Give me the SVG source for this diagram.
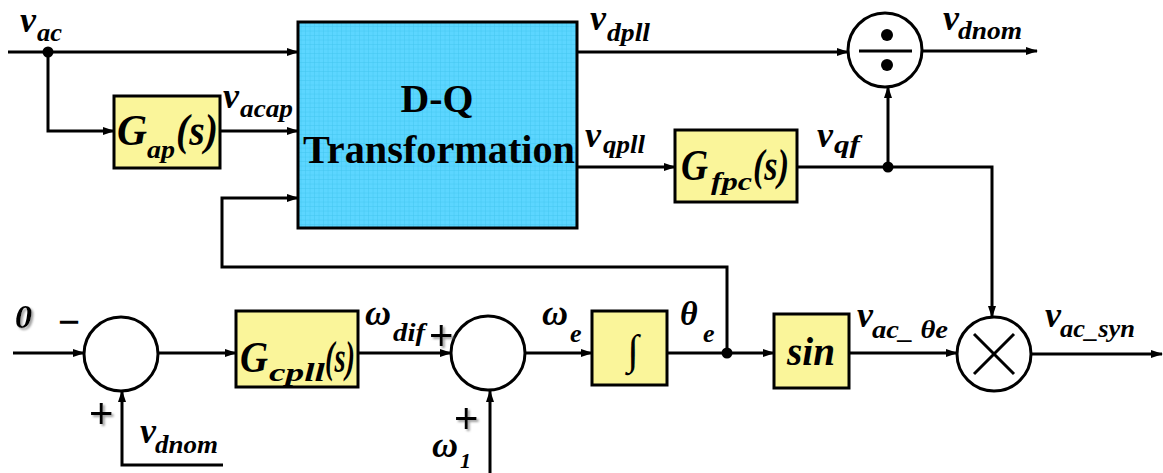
<svg xmlns="http://www.w3.org/2000/svg" width="1163" height="473" viewBox="0 0 1163 473">
<defs>
<pattern id="grid" width="4.5" height="4.5" patternUnits="userSpaceOnUse">
<rect width="4.5" height="4.5" fill="#5CD6FF"/>
<path d="M4.5 0V4.5M0 4.5H4.5" stroke="#3EC4EE" stroke-width="0.8" fill="none"/>
</pattern>
<marker id="arr" markerWidth="12" markerHeight="10" refX="11" refY="5" orient="auto" markerUnits="userSpaceOnUse"><path d="M0,1 L12,5 L0,9 Z" fill="#000"/></marker>
<filter id="sh" x="-30%" y="-30%" width="160%" height="160%"><feDropShadow dx="2" dy="2" stdDeviation="0.8" flood-color="#888" flood-opacity="0.8"/></filter>
</defs>
<style>
.blk{fill:#FAF59A;stroke:#000;stroke-width:3}
.cir{fill:#fff;stroke:#000;stroke-width:3}
.ln{fill:none;stroke:#000;stroke-width:3;marker-end:url(#arr)}
.pl{fill:none;stroke:#000;stroke-width:3}
.lab{font-family:'Liberation Serif', 'Times New Roman', serif;font-weight:bold;font-style:italic;fill:#000}
.v{font-size:36px}
.sub{font-size:26px}
.big{font-size:44px}
.sign{font-family:'Liberation Sans', Arial, sans-serif;font-size:42px;fill:#000}
.dq{font-family:'Liberation Serif', 'Times New Roman', serif;font-weight:bold;font-size:39px;fill:#000}
</style>
<rect width="1163" height="473" fill="#fff"/>

<g id="connectors">
<path class="ln" d="M8,52 H298"/>
<path class="ln" d="M48,52 V131 H114"/>
<path class="ln" d="M220,131 H298"/>
<path class="ln" d="M727,353 V267 H222 V198 H298"/>
<path class="ln" d="M577,52 H848"/>
<path class="ln" d="M577,167 H675"/>
<path class="ln" d="M797,167 H992 V317"/>
<path class="ln" d="M888,167 V87"/>
<path class="ln" d="M922,51 H1037"/>
<path class="ln" d="M13,353 H84"/>
<path class="ln" d="M158,353 H236"/>
<path class="ln" d="M223,465 H122 V391"/>
<path class="ln" d="M358,353 H451"/>
<path class="ln" d="M490,473 V391"/>
<path class="ln" d="M525,353 H592"/>
<path class="ln" d="M667,353 H774"/>
<path class="ln" d="M849,353 H957"/>
<path class="ln" d="M1031,354 H1162"/>
<circle cx="48" cy="52" r="5.5" fill="#000"/>
<circle cx="888" cy="167" r="5.5" fill="#000"/>
<circle cx="727" cy="353" r="5.5" fill="#000"/>
</g>

<g id="dq">
<rect x="298" y="22" width="279" height="206" fill="url(#grid)" stroke="#000" stroke-width="3"/>
<text class="dq" x="437" y="112" text-anchor="middle" textLength="73" lengthAdjust="spacingAndGlyphs">D-Q</text>
<text class="dq" x="303" y="163" textLength="272" lengthAdjust="spacingAndGlyphs">Transformation</text>
</g>

<g id="gap">
<rect class="blk" x="114" y="96" width="106" height="72"/>
<text class="lab big" x="117" y="145" textLength="30" lengthAdjust="spacingAndGlyphs">G</text>
<text class="lab sub" x="147" y="158" textLength="28" lengthAdjust="spacingAndGlyphs">ap</text>
<text class="lab big" x="176" y="145" textLength="42" lengthAdjust="spacingAndGlyphs">(s)</text>
</g>

<g id="gfpc">
<rect class="blk" x="675" y="130" width="122" height="72"/>
<text class="lab big" x="681" y="180" textLength="27" lengthAdjust="spacingAndGlyphs">G</text>
<text class="lab sub" x="711" y="190" textLength="41" lengthAdjust="spacingAndGlyphs">fpc</text>
<text class="lab big" x="753" y="180" textLength="36" lengthAdjust="spacingAndGlyphs">(s)</text>
</g>

<g id="divider">
<circle class="cir" cx="885" cy="50" r="37"/>
<line class="pl" x1="859" y1="51" x2="912" y2="51"/>
<circle cx="887" cy="35" r="6" fill="#000"/>
<circle cx="887" cy="65" r="6" fill="#000"/>
</g>

<g id="summer1">
<circle class="cir" cx="121" cy="354" r="37"/>
</g>

<g id="gcpll">
<rect class="blk" x="236" y="311" width="122" height="76"/>
<text class="lab big" x="240" y="372" textLength="28" lengthAdjust="spacingAndGlyphs">G</text>
<text class="lab sub" x="269" y="381" textLength="56" lengthAdjust="spacingAndGlyphs">cpll</text>
<text class="lab big" x="325" y="372" textLength="30" lengthAdjust="spacingAndGlyphs">(s)</text>
</g>

<g id="summer2">
<circle class="cir" cx="488" cy="353" r="37"/>
</g>

<g id="integrator">
<rect class="blk" x="592" y="311" width="75" height="74"/>
<text x="633" y="364" text-anchor="middle" font-family="Liberation Serif, serif" font-style="italic" font-size="42">∫</text>
</g>

<g id="sin">
<rect class="blk" x="774" y="314" width="75" height="74"/>
<text class="lab" x="787" y="365" font-size="40" textLength="48" lengthAdjust="spacingAndGlyphs">sin</text>
</g>

<g id="multiplier">
<circle class="cir" cx="994" cy="354" r="37"/>
<line class="pl" x1="974" y1="334" x2="1014" y2="374"/>
<line class="pl" x1="1014" y1="334" x2="974" y2="374"/>
</g>

<g id="labels">
<text class="lab v" x="20" y="32">v</text>
<text class="lab sub" x="37" y="41" textLength="25" lengthAdjust="spacingAndGlyphs">ac</text>

<text class="lab v" x="223" y="108">v</text>
<text class="lab sub" x="240" y="117" textLength="53" lengthAdjust="spacingAndGlyphs">acap</text>

<text class="lab v" x="590" y="30">v</text>
<text class="lab sub" x="607" y="41" textLength="43" lengthAdjust="spacingAndGlyphs">dpll</text>

<text class="lab v" x="585" y="147">v</text>
<text class="lab sub" x="603" y="153" textLength="42" lengthAdjust="spacingAndGlyphs">qpll</text>

<text class="lab v" x="817" y="147">v</text>
<text class="lab sub" x="834" y="153" textLength="26" lengthAdjust="spacingAndGlyphs">qf</text>

<text class="lab v" x="943" y="30">v</text>
<text class="lab sub" x="958" y="39" textLength="64" lengthAdjust="spacingAndGlyphs">dnom</text>

<text class="lab" x="15" y="328" font-size="34" filter="url(#sh)">0</text>
<text class="sign" x="58" y="336" textLength="22" lengthAdjust="spacingAndGlyphs">−</text>
<text class="sign" x="89" y="428" filter="url(#sh)">+</text>

<text class="lab v" x="140" y="443">v</text>
<text class="lab sub" x="155" y="453" textLength="63" lengthAdjust="spacingAndGlyphs">dnom</text>

<text class="lab v" x="365" y="325">ω</text>
<text class="lab sub" x="393" y="341" textLength="32" lengthAdjust="spacingAndGlyphs">dif</text>
<text class="sign" x="429" y="350" filter="url(#sh)">+</text>

<text class="lab v" x="542" y="325">ω</text>
<text class="lab sub" x="570" y="342">e</text>

<text class="lab" x="680" y="325" font-size="34">θ</text>
<text class="lab sub" x="703" y="342">e</text>

<text class="sign" x="454" y="433" filter="url(#sh)">+</text>
<text class="lab v" x="432" y="457">ω</text>
<text class="lab" x="460" y="468" font-size="22">1</text>

<text class="lab v" x="857" y="327">v</text>
<text class="lab sub" x="872" y="338" textLength="76" lengthAdjust="spacingAndGlyphs">ac_ θe</text>

<text class="lab v" x="1045" y="327">v</text>
<text class="lab sub" x="1060" y="337" textLength="75" lengthAdjust="spacingAndGlyphs">ac_syn</text>
</g>
</svg>
